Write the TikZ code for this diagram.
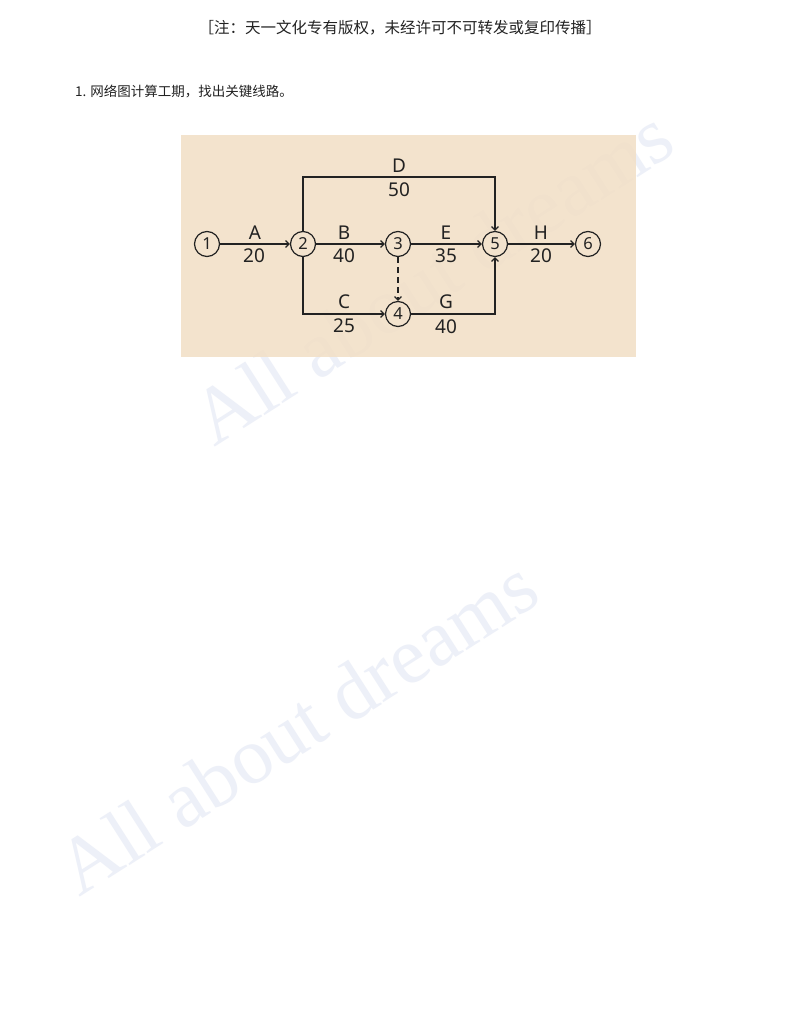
\documentclass[tikz,border=0pt]{standalone}
\usepackage{fontspec}
\setmainfont{Liberation Serif}
\newfontfamily\cjk{Noto Sans CJK SC}
\newfontfamily\lbl{Noto Sans}
\usetikzlibrary{arrows.meta, positioning}
\definecolor{beige}{HTML}{F2DFC5}
\definecolor{ink}{HTML}{222222}
\definecolor{wmark}{HTML}{EDF0F8}

\begin{document}
\begin{tikzpicture}[x=1pt, y=-1pt, >={Straight Barb[length=3.5pt,width=7pt]},
    ev/.style={circle, draw=ink, line width=1.2pt, minimum size=25pt, inner sep=0pt, text=ink, font=\lbl\fontsize{16.5}{16.5}\selectfont},
    act/.style={text=ink, font=\lbl\fontsize{19}{19}\selectfont},
    arc/.style={draw=ink, line width=1.2pt, ->},
    wm/.style={text=wmark, font=\fontsize{80}{80}\selectfont}]
      \useasboundingbox[fill=white] (0,0) rectangle (800,1035);
      % watermark
      \node[wm, rotate=32.5] (wm1) at (432,276) {All about dreams};
      \node[wm, rotate=32.5] (wm2) at (297,726) {All about dreams};
      % header and question
      \node[font=\cjk\fontsize{15.5}{15.5}\selectfont, text=ink] (hdr) at (400,28) {［注：天一文化专有版权，未经许可不可转发或复印传播］};
      \node[font=\cjk\fontsize{13.5}{13.5}\selectfont, text=ink, anchor=west, inner sep=0pt] (q1) at (75,91) {1. 网络图计算工期，找出关键线路。};
      \fill[beige, fill opacity=0.85] (181,135) rectangle (636,357);
      % events
      \foreach \n/\x/\y in {1/207/244, 2/303/244, 3/398/244, 4/398/314, 5/495/244, 6/588/244}
        \node[ev] (n\n) at (\x,\y) {\n};
      \coordinate (dtop) at (399,177);
      % activities
      \foreach \a/\b in {1/2, 2/3, 3/5, 5/6} \draw[arc] (n\a) -- (n\b);
      \draw[arc] (n2) |- (dtop) -| (n5);
      \draw[arc] (n2) |- (n4);
      \draw[arc] (n4) -| (n5);
      \draw[arc, dash pattern=on 6pt off 4pt] (n3) -- (n4);
      \foreach \t/\x/\y [count=\i] in {A/255/233, 20/254/256, B/344/233, 40/344/256, E/446/233, 35/446/256,
          H/541/233, 20/541/256, D/399/166, 50/399/190, C/344/302, 25/344/326, G/446/302, 40/446/327}
        \node[act] (lab\i) at (\x,\y) {\t};
\end{tikzpicture}
\end{document}
